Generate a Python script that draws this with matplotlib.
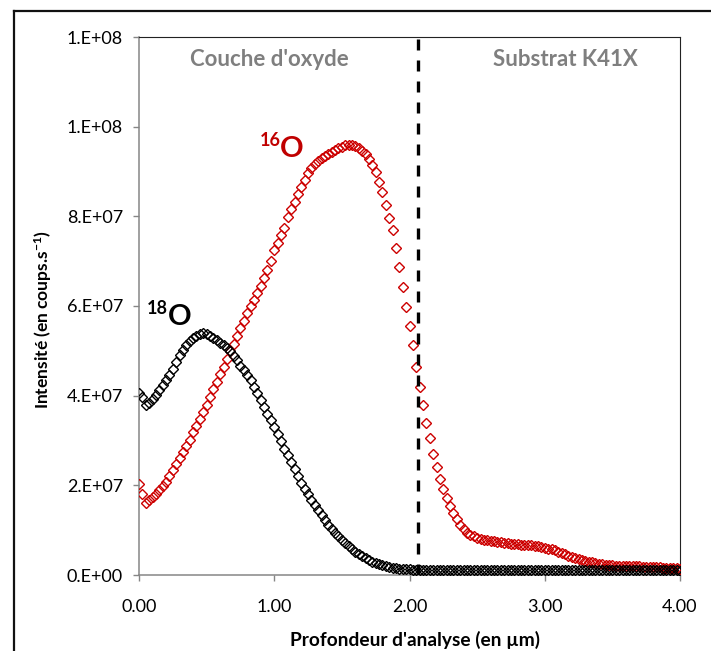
from matplotlib import pyplot as plt
from matplotlib.lines import Line2D
from matplotlib.ticker import FuncFormatter, MultipleLocator

plt.rcParams["font.family"] = ["Lato", "DejaVu Sans"]
plt.rcParams["mathtext.default"] = "regular"

SCALE = 1e7  # intensities below are given in 1e7 counts/s

depth_um = [
    0.000, 0.025, 0.050, 0.075, 0.100, 0.125, 0.150, 0.175, 0.200, 0.225,
    0.250, 0.275, 0.300, 0.325, 0.350, 0.375, 0.400, 0.425, 0.450, 0.475,
    0.500, 0.525, 0.550, 0.575, 0.600, 0.625, 0.650, 0.675, 0.700, 0.725,
    0.750, 0.775, 0.800, 0.825, 0.850, 0.875, 0.900, 0.925, 0.950, 0.975,
    1.000, 1.025, 1.050, 1.075, 1.100, 1.125, 1.150, 1.175, 1.200, 1.225,
    1.250, 1.275, 1.300, 1.325, 1.350, 1.375, 1.400, 1.425, 1.450, 1.475,
    1.500, 1.525, 1.550, 1.575, 1.600, 1.625, 1.650, 1.675, 1.700, 1.725,
    1.750, 1.775, 1.800, 1.825, 1.850, 1.875, 1.900, 1.925, 1.950, 1.975,
    2.000, 2.025, 2.050, 2.075, 2.100, 2.125, 2.150, 2.175, 2.200, 2.225,
    2.250, 2.275, 2.300, 2.325, 2.350, 2.375, 2.400, 2.425, 2.450, 2.475,
    2.500, 2.525, 2.550, 2.575, 2.600, 2.625, 2.650, 2.675, 2.700, 2.725,
    2.750, 2.775, 2.800, 2.825, 2.850, 2.875, 2.900, 2.925, 2.950, 2.975,
    3.000, 3.025, 3.050, 3.075, 3.100, 3.125, 3.150, 3.175, 3.200, 3.225,
    3.250, 3.275, 3.300, 3.325, 3.350, 3.375, 3.400, 3.425, 3.450, 3.475,
    3.500, 3.525, 3.550, 3.575, 3.600, 3.625, 3.650, 3.675, 3.700, 3.725,
    3.750, 3.775, 3.800, 3.825, 3.850, 3.875, 3.900, 3.925, 3.950, 3.975,
    4.000,
]

o16_counts = [
    2.03, 1.80, 1.61, 1.67, 1.74, 1.81, 1.89, 1.98, 2.08, 2.20,
    2.34, 2.48, 2.61, 2.74, 2.87, 3.02, 3.18, 3.33, 3.48, 3.63,
    3.80, 3.97, 4.14, 4.31, 4.48, 4.65, 4.82, 4.99, 5.16, 5.33,
    5.50, 5.67, 5.84, 6.00, 6.14, 6.29, 6.45, 6.62, 6.80, 7.00,
    7.25, 7.40, 7.58, 7.75, 7.98, 8.16, 8.33, 8.49, 8.66, 8.81,
    8.96, 9.08, 9.17, 9.24, 9.30, 9.35, 9.39, 9.43, 9.47, 9.52,
    9.55, 9.58, 9.59, 9.58, 9.56, 9.52, 9.46, 9.38, 9.27, 9.14,
    9.00, 8.77, 8.55, 8.25, 7.97, 7.69, 7.30, 6.87, 6.42, 5.97,
    5.55, 5.12, 4.65, 4.20, 3.80, 3.40, 3.05, 2.70, 2.40, 2.15,
    1.91, 1.71, 1.54, 1.39, 1.25, 1.12, 1.02, 0.94, 0.89, 0.86,
    0.83, 0.81, 0.79, 0.77, 0.76, 0.75, 0.74, 0.73, 0.72, 0.71,
    0.70, 0.69, 0.69, 0.68, 0.67, 0.67, 0.66, 0.65, 0.64, 0.62,
    0.61, 0.59, 0.57, 0.55, 0.52, 0.49, 0.46, 0.43, 0.40, 0.38,
    0.36, 0.33, 0.31, 0.29, 0.28, 0.27, 0.25, 0.24, 0.23, 0.22,
    0.22, 0.21, 0.21, 0.20, 0.20, 0.20, 0.19, 0.19, 0.19, 0.18,
    0.18, 0.18, 0.17, 0.17, 0.17, 0.16, 0.16, 0.16, 0.15, 0.15,
    0.14,
]

o18_counts = [
    4.07, 3.97, 3.80, 3.83, 3.92, 4.02, 4.12, 4.23, 4.34, 4.47,
    4.60, 4.74, 4.90, 5.02, 5.12, 5.21, 5.28, 5.33, 5.37, 5.39,
    5.38, 5.34, 5.29, 5.24, 5.18, 5.12, 5.06, 4.99, 4.89, 4.79,
    4.67, 4.58, 4.47, 4.34, 4.19, 4.05, 3.90, 3.74, 3.60, 3.45,
    3.30, 3.14, 2.98, 2.82, 2.67, 2.51, 2.36, 2.21, 2.06, 1.92,
    1.80, 1.68, 1.56, 1.44, 1.33, 1.22, 1.12, 1.02, 0.94, 0.86,
    0.78, 0.71, 0.64, 0.58, 0.52, 0.47, 0.42, 0.38, 0.34, 0.30,
    0.27, 0.24, 0.22, 0.20, 0.18, 0.16, 0.15, 0.14, 0.135, 0.13,
    0.125, 0.12, 0.12, 0.12, 0.12, 0.12, 0.12, 0.12, 0.12, 0.12,
    0.12, 0.12, 0.12, 0.12, 0.12, 0.12, 0.12, 0.12, 0.12, 0.12,
    0.12, 0.12, 0.12, 0.12, 0.12, 0.12, 0.12, 0.12, 0.12, 0.12,
    0.12, 0.12, 0.12, 0.12, 0.12, 0.12, 0.12, 0.12, 0.12, 0.12,
    0.11, 0.11, 0.11, 0.11, 0.11, 0.11, 0.11, 0.11, 0.11, 0.11,
    0.11, 0.11, 0.11, 0.11, 0.11, 0.11, 0.11, 0.11, 0.11, 0.11,
    0.11, 0.11, 0.11, 0.11, 0.11, 0.11, 0.11, 0.11, 0.11, 0.11,
    0.11, 0.11, 0.11, 0.11, 0.11, 0.11, 0.11, 0.11, 0.11, 0.11,
    0.10,
]

interface_depth = 2.06
x_ticks = [0.0, 1.0, 2.0, 3.0, 4.0]

RED = "#C00000"
GREY = "#7F7F7F"
AXIS_GREY = "#868686"


def isotope_label(ax, x_mass, x_symbol, y_base, mass, color):
    """Writes an isotope name as a small bold mass number followed by a big bold O."""
    ax.text(x_mass, y_base + 0.25e7, mass, color=color, fontsize=13,
            fontweight="bold", ha="left", va="baseline")
    ax.text(x_symbol, y_base, "O", color=color, fontsize=21,
            fontweight="bold", ha="left", va="baseline")


fig = plt.figure(figsize=(7.11, 6.51), dpi=100)
ax = fig.add_axes([139 / 711, 76 / 651, 541 / 711, 538 / 651])

# outer chart frame (only left and top edges are visible)
frame_x = 13.5 / 711
frame_y = 1 - 11 / 651
fig.add_artist(Line2D([frame_x, frame_x], [0, frame_y], color="#111111", lw=1.6))
fig.add_artist(Line2D([frame_x, 1], [frame_y, frame_y], color="#111111", lw=1.6))

ax.plot(depth_um, [v * SCALE for v in o16_counts], linestyle="none", marker="D",
        ms=4.8, mfc="none", mec="#CC0000", mew=1.0, zorder=3)
ax.plot(depth_um, [v * SCALE for v in o18_counts], linestyle="none", marker="D",
        ms=4.8, mfc="none", mec="black", mew=1.0, zorder=4)

ax.axvline(interface_depth, color="black", lw=2.4, dashes=(3.3, 3.0), zorder=5)

ax.set_xlim(0, 4)
ax.set_ylim(0, 1.2e8)
ax.set_xticks(x_ticks)
ax.xaxis.set_major_formatter(FuncFormatter(lambda v, _: f"{v:.2f}"))
ax.yaxis.set_major_locator(MultipleLocator(2e7))
ax.yaxis.set_major_formatter(FuncFormatter(lambda v, _: f"{v:#.0E}"))

for side in ("left", "bottom"):
    ax.spines[side].set_color(AXIS_GREY)
    ax.spines[side].set_linewidth(1.1)
for side in ("top", "right"):
    ax.spines[side].set_color("#222222")
    ax.spines[side].set_linewidth(0.8)

ax.tick_params(axis="y", direction="out", length=4.5, width=1, color=AXIS_GREY,
               labelsize=13, pad=7)
ax.tick_params(axis="x", direction="out", length=4.5, width=1, color=AXIS_GREY,
               labelsize=13, pad=13)

ax.text(0.963, 1.149e8, "Couche d'oxyde", color=GREY, fontsize=16,
        fontweight="bold", ha="center", va="center")
ax.text(3.15, 1.149e8, "Substrat K41X", color=GREY, fontsize=16,
        fontweight="bold", ha="center", va="center")
isotope_label(ax, 0.89, 1.04, 9.32e7, "16", RED)
isotope_label(ax, 0.06, 0.215, 5.58e7, "18", "black")

fig.text(415 / 711, 1 - 646 / 651, "Profondeur d'analyse (en µm)", fontsize=13.8,
         fontweight="bold", ha="center", va="baseline")
fig.text(43 / 711, 1 - 320 / 651, "Intensité (en coups.s$^{-1}$)", fontsize=12.5,
         fontweight="bold", ha="center", va="center", rotation=90)

fig.savefig("out.png", dpi=100)
